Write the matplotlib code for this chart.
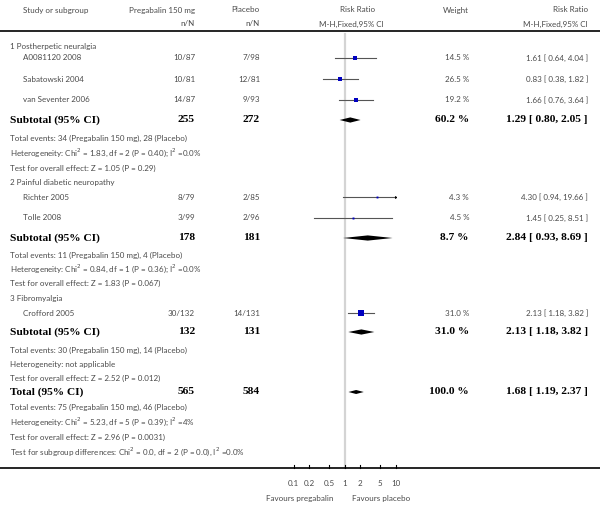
import numpy as np
import matplotlib
matplotlib.use("Agg")
import matplotlib.pyplot as plt
from matplotlib.transforms import blended_transform_factory

# ---------------------------------
# Data
# ---------------------------------
study_names = ["A0081120 2008", "Sabatowski 2004", "van Seventer 2006",
               "Richter 2005", "Tolle 2008", "Crofford 2005"]
study_group = [1, 1, 1, 2, 2, 3]
preg_nN = ["10/87", "10/81", "14/87", "8/79", "3/99", "30/132"]
plac_nN = ["7/98", "12/81", "9/93", "2/85", "2/96", "14/131"]
study_rr = [1.61, 0.83, 1.66, 4.30, 1.45, 2.13]
study_lo = [0.64, 0.38, 0.76, 0.94, 0.25, 1.18]
study_hi = [4.04, 1.82, 3.64, 19.66, 8.51, 3.82]
study_weight = [14.5, 26.5, 19.2, 4.3, 4.5, 31.0]

group_titles = ["1 Postherpetic neuralgia", "2 Painful diabetic neuropathy",
                "3 Fibromyalgia"]
group_preg_N = [255, 178, 132]
group_plac_N = [272, 181, 131]
group_rr = [1.29, 2.84, 2.13]
group_lo = [0.80, 0.93, 1.18]
group_hi = [2.05, 8.69, 3.82]
group_weight = [60.2, 8.7, 31.0]
group_notes = [
    ["Total events: 34 (Pregabalin 150 mg), 28 (Placebo)",
     "Heterogeneity: Chi$^2$ = 1.83, df = 2 (P = 0.40); I$^2$ =0.0%",
     "Test for overall effect: Z = 1.05 (P = 0.29)"],
    ["Total events: 11 (Pregabalin 150 mg), 4 (Placebo)",
     "Heterogeneity: Chi$^2$ = 0.84, df = 1 (P = 0.36); I$^2$ =0.0%",
     "Test for overall effect: Z = 1.83 (P = 0.067)"],
    ["Total events: 30 (Pregabalin 150 mg), 14 (Placebo)",
     "Heterogeneity: not applicable",
     "Test for overall effect: Z = 2.52 (P = 0.012)"],
]

total_preg_N = 565
total_plac_N = 584
total_rr, total_lo, total_hi = 1.68, 1.19, 2.37
total_weight = 100.0
total_notes = [
    "Total events: 75 (Pregabalin 150 mg), 46 (Placebo)",
    "Heterogeneity: Chi$^2$ = 5.23, df = 5 (P = 0.39); I$^2$ =4%",
    "Test for overall effect: Z = 2.96 (P = 0.0031)",
    "Test for subgroup differences: Chi$^2$ = 0.0, df = 2 (P = 0.0), I$^2$ =0.0%",
]

axis_ticks = [0.1, 0.2, 0.5, 1, 2, 5, 10]
axis_tick_labels = ["0.1", "0.2", "0.5", "1", "2", "5", "10"]

# ---------------------------------
# Layout (pixel rows, top-down)
# ---------------------------------
W, H = 600, 508
group_title_y = [46, 182, 298]
study_y = [58, 79, 100, 197, 218, 313]
subtotal_y = [120, 238, 332]
note_y = [[138, 153, 168], [255, 269, 283], [350, 364, 378]]
total_y = 392
total_note_y = [407, 422, 437, 452]
axis_y = 468

X_STUDY, X_GROUP = 23, 10
X_PREG, X_PLAC = 195, 260
X_WEIGHT, X_RR = 469, 588
X_LEFT, X_RIGHT = 293.5, 395.7  # pixel span for 0.1 .. 10

GREY_TXT = "#4a4a4a"
SANS = "Lato"
SERIF = "Liberation Serif"
FS = 5.8
FS_B = 8.2

fig = plt.figure(figsize=(W / 100, H / 100), dpi=100)
ax = fig.add_axes([X_LEFT / W, 0, (X_RIGHT - X_LEFT) / W, 1])
ax.set_xscale("log")
ax.set_xlim(0.1, 10)
ax.set_ylim(H, 0)
ax.axis("off")

tr = blended_transform_factory(fig.transFigure, ax.transData)


def txt(xpix, y, s, ha="left", bold=False, color=GREY_TXT, size=None):
    if bold:
        ax.text(xpix / W, y, s, transform=tr, ha=ha, va="center",
                family=SERIF, weight="bold", fontsize=size or FS_B, color="black")
    else:
        ax.text(xpix / W, y, s, transform=tr, ha=ha, va="center",
                family=[SANS, "DejaVu Sans"], fontsize=size or FS, color=color)


def hline(y, lw=1.2):
    ax.plot([0, 1], [y, y], transform=tr, color="black", lw=lw, clip_on=False)


def diamond(y, rr, lo, hi, h=2.6):
    ax.fill([lo, rr, hi, rr], [y, y - h, y, y + h], color="black", lw=0)


# headers
txt(X_STUDY, 10, "Study or subgroup")
txt(X_PREG, 10, "Pregabalin 150 mg", ha="right")
txt(X_PREG, 24, "n/N", ha="right")
txt(X_PLAC, 10, "Placebo", ha="right")
txt(X_PLAC, 24, "n/N", ha="right")
txt(358, 10, "Risk Ratio", ha="center")
txt(351, 24, "M-H,Fixed,95% CI", ha="center")
txt(X_WEIGHT, 10, "Weight", ha="right")
txt(X_RR, 10, "Risk Ratio", ha="right")
txt(X_RR, 24, "M-H,Fixed,95% CI", ha="right")
hline(31)

# reference line at RR = 1
ax.plot([1, 1], [34, axis_y], color="#d4d4d4", lw=1.6, zorder=0)

# study rows
for i, name in enumerate(study_names):
    y = study_y[i]
    txt(X_STUDY, y, name)
    txt(X_PREG, y, preg_nN[i], ha="right")
    txt(X_PLAC, y, plac_nN[i], ha="right")
    txt(X_WEIGHT, y, f"{study_weight[i]:.1f} %", ha="right")
    txt(X_RR, y, f"{study_rr[i]:.2f} [ {study_lo[i]:.2f}, {study_hi[i]:.2f} ]", ha="right")
    hi = min(study_hi[i], 10)
    ax.plot([study_lo[i], hi], [y, y], color="#555555", lw=0.8)
    if study_hi[i] > 10:
        ax.plot([10], [y], marker=">", color="black", ms=2.2, mew=0)
    ax.plot([study_rr[i]], [y], marker="s", color="#0000c0",
            ms=0.66 * np.sqrt(study_weight[i]), mew=0)

# group rows
for g, title in enumerate(group_titles):
    txt(X_GROUP, group_title_y[g], title)
    y = subtotal_y[g]
    txt(X_GROUP, y, "Subtotal (95% CI)", bold=True)
    txt(X_PREG, y, str(group_preg_N[g]), ha="right", bold=True)
    txt(X_PLAC, y, str(group_plac_N[g]), ha="right", bold=True)
    txt(X_WEIGHT, y, f"{group_weight[g]:.1f} %", ha="right", bold=True)
    txt(X_RR, y, f"{group_rr[g]:.2f} [ {group_lo[g]:.2f}, {group_hi[g]:.2f} ]",
        ha="right", bold=True)
    diamond(y, group_rr[g], group_lo[g], group_hi[g])
    for k, note in enumerate(group_notes[g]):
        txt(X_GROUP, note_y[g][k], note)

# overall
txt(X_GROUP, total_y, "Total (95% CI)", bold=True)
txt(X_PREG, total_y, str(total_preg_N), ha="right", bold=True)
txt(X_PLAC, total_y, str(total_plac_N), ha="right", bold=True)
txt(X_WEIGHT, total_y, f"{total_weight:.1f} %", ha="right", bold=True)
txt(X_RR, total_y, f"{total_rr:.2f} [ {total_lo:.2f}, {total_hi:.2f} ]",
    ha="right", bold=True)
diamond(total_y, total_rr, total_lo, total_hi, h=2.0)
for k, note in enumerate(total_notes):
    txt(X_GROUP, total_note_y[k], note)

# bottom axis
hline(axis_y)
for t, lab in zip(axis_ticks, axis_tick_labels):
    ax.plot([t, t], [axis_y - 3, axis_y], color="black", lw=0.8, clip_on=False)
    ax.text(t, axis_y + 15, lab, ha="center", va="center",
            family=[SANS, "DejaVu Sans"], fontsize=FS, color=GREY_TXT)
txt(333, 498, "Favours pregabalin", ha="right")
txt(352, 498, "Favours placebo", ha="left")

fig.savefig("out.png", dpi=100)
